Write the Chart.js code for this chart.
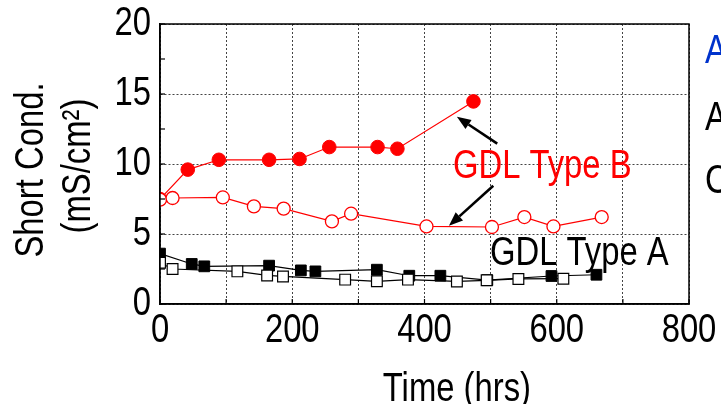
<!DOCTYPE html>
<html>
<head>
<meta charset="utf-8">
<script src="https://cdn.jsdelivr.net/npm/chart.js@4.4.1/dist/chart.umd.min.js"></script>
<style>
  html, body { margin: 0; padding: 0; background: #fff; }
  #wrap { width: 721px; height: 404px; }
</style>
</head>
<body>
<div id="wrap"><canvas id="c" width="721" height="404"></canvas></div>
<script>
// GDL Type B, open circles
const typeBOpenHours = [0, 19, 95, 142, 187, 260, 289, 403, 502, 551, 595, 668];
const typeBOpenCond  = [7.45, 7.57, 7.61, 6.97, 6.81, 5.9, 6.45, 5.54, 5.5, 6.21, 5.54, 6.21];

// GDL Type B, filled circles
const typeBFilledHours = [0, 42, 89, 165, 211, 256, 329, 359, 474];
const typeBFilledCond  = [7.5, 9.6, 10.3, 10.3, 10.36, 11.21, 11.21, 11.09, 14.47];

// GDL Type A, open squares
const typeAOpenHours = [0, 19, 117, 162, 186, 280, 328, 375, 449, 494, 542, 610];
const typeAOpenCond  = [2.95, 2.5, 2.33, 2.04, 1.97, 1.74, 1.62, 1.74, 1.61, 1.69, 1.79, 1.81];

// GDL Type A, filled squares
const typeAFilledHours = [0, 48, 67, 165, 213, 235, 328, 377, 424, 495, 592, 660];
const typeAFilledCond  = [3.6, 2.86, 2.69, 2.74, 2.4, 2.33, 2.45, 2.02, 2.02, 1.7, 2.0, 2.09];

// Axis ticks and titles
const xTickLabels = [0, 200, 400, 600, 800];
const yTickLabels = [0, 5, 10, 15, 20];
const xTitle = 'Time (hrs)';
const yTitle = ['Short Cond.', '(mS/cm²)'];

const FONT = '"Liberation Sans", Arial, sans-serif';
const NARROW = 0.82;   // horizontal squeeze giving a narrow sans face
Chart.defaults.font.family = FONT;

function points(xs, ys) { return xs.map((x, i) => ({ x: x, y: ys[i] })); }

// Narrow text: drawn with a horizontal squeeze, optionally rotated
function narrowText(ctx, str, x, y, opts) {
  const o = Object.assign({ size: 40, color: '#000', align: 'left', rotate: false }, opts || {});
  ctx.save();
  ctx.translate(x, y);
  if (o.rotate) ctx.rotate(-Math.PI / 2);
  ctx.scale(NARROW, 1);
  ctx.font = o.size + 'px ' + FONT;
  ctx.fillStyle = o.color;
  ctx.textAlign = o.align;
  ctx.textBaseline = 'alphabetic';
  ctx.fillText(str, 0, 0);
  ctx.restore();
}

function drawArrow(ctx, x1, y1, x2, y2) {
  const ang = Math.atan2(y2 - y1, x2 - x1);
  const head = 14, half = 5.5;
  const bx = x2 - head * Math.cos(ang), by = y2 - head * Math.sin(ang);
  ctx.save();
  ctx.strokeStyle = '#000'; ctx.fillStyle = '#000'; ctx.lineWidth = 2.6;
  ctx.beginPath(); ctx.moveTo(x1, y1); ctx.lineTo(bx, by); ctx.stroke();
  ctx.beginPath();
  ctx.moveTo(x2, y2);
  ctx.lineTo(bx + half * Math.sin(ang), by - half * Math.cos(ang));
  ctx.lineTo(bx - half * Math.sin(ang), by + half * Math.cos(ang));
  ctx.closePath(); ctx.fill();
  ctx.restore();
}

// Frame, inward tick marks, tick labels, titles and callouts
const decorations = {
  id: 'decorations',
  afterDatasetsDraw(chart) {
    const { ctx, chartArea: a, scales: { x, y } } = chart;
    ctx.save();
    ctx.strokeStyle = '#000'; ctx.lineWidth = 1.2;
    x.ticks.forEach(t => {
      const px = x.getPixelForValue(t.value);
      ctx.beginPath(); ctx.moveTo(px, a.bottom); ctx.lineTo(px, a.bottom - 5); ctx.stroke();
    });
    y.ticks.forEach(t => {
      const py = y.getPixelForValue(t.value);
      ctx.beginPath(); ctx.moveTo(a.left, py); ctx.lineTo(a.left + 5, py); ctx.stroke();
    });
    ctx.lineWidth = 1.5;
    ctx.strokeRect(a.left, a.top, a.right - a.left, a.bottom - a.top);
    ctx.restore();

    // tick labels
    x.ticks.forEach(t => {
      if (xTickLabels.includes(t.value)) {
        narrowText(ctx, String(t.value), x.getPixelForValue(t.value), a.bottom + 38, { align: 'center' });
      }
    });
    y.ticks.forEach(t => {
      if (yTickLabels.includes(t.value)) {
        narrowText(ctx, String(t.value), a.left - 9, y.getPixelForValue(t.value) + 11, { align: 'right' });
      }
    });

    // axis titles
    narrowText(ctx, xTitle, x.getPixelForValue(449), chart.height - 3, { align: 'center' });
    const yMid = (a.top + a.bottom) / 2;
    narrowText(ctx, yTitle[0], 43, yMid + 6, { align: 'center', rotate: true });
    narrowText(ctx, yTitle[1], 90, yMid + 2, { align: 'center', rotate: true });

    // callouts
    drawArrow(ctx, x.getPixelForValue(510), y.getPixelForValue(11.45), x.getPixelForValue(449), y.getPixelForValue(13.38));
    drawArrow(ctx, x.getPixelForValue(504), y.getPixelForValue(8.45), x.getPixelForValue(437), y.getPixelForValue(5.59));
    narrowText(ctx, 'GDL Type B', x.getPixelForValue(443), y.getPixelForValue(9.02), { color: '#ff0000' });
    narrowText(ctx, 'GDL Type A', x.getPixelForValue(499), y.getPixelForValue(2.8));

    // side labels beyond the plot
    const sx = a.right + 16;
    narrowText(ctx, 'A', sx, y.getPixelForValue(17.24), { color: '#0033cc' });
    narrowText(ctx, 'A', sx, y.getPixelForValue(12.45));
    narrowText(ctx, 'C', sx, y.getPixelForValue(7.95));
  }
};

new Chart(document.getElementById('c'), {
  type: 'line',
  data: {
    datasets: [
      {
        label: 'GDL Type B open',
        data: points(typeBOpenHours, typeBOpenCond),
        borderColor: '#ff0000', backgroundColor: '#ffffff',
        borderWidth: 1.2, pointStyle: 'circle', pointRadius: 6.5, pointBorderWidth: 1.3,
        order: 0
      },
      {
        label: 'GDL Type B filled',
        data: points(typeBFilledHours, typeBFilledCond),
        borderColor: '#ff0000', backgroundColor: '#ff0000',
        borderWidth: 1.2, pointStyle: 'circle', pointRadius: 6.8, pointBorderWidth: 1,
        order: 1
      },
      {
        label: 'GDL Type A open',
        data: points(typeAOpenHours, typeAOpenCond),
        borderColor: '#000000', backgroundColor: '#ffffff',
        borderWidth: 1.2, pointStyle: 'rect', pointRadius: 7.6, pointBorderWidth: 1.2,
        order: 0
      },
      {
        label: 'GDL Type A filled',
        data: points(typeAFilledHours, typeAFilledCond),
        borderColor: '#000000', backgroundColor: '#000000',
        borderWidth: 1.2, pointStyle: 'rect', pointRadius: 7.6, pointBorderWidth: 1,
        order: 1
      }
    ]
  },
  options: {
    responsive: false,
    animation: false,
    devicePixelRatio: 1,
    layout: { padding: { top: 24, right: 32, left: 0, bottom: 0 } },
    plugins: { legend: { display: false }, tooltip: { enabled: false } },
    elements: { line: { tension: 0 } },
    scales: {
      x: {
        type: 'linear', min: 0, max: 800,
        afterFit(s) { s.height = 100; },
        ticks: { stepSize: 100, autoSkip: false, display: false },
        grid: { color: '#444', lineWidth: 1, drawTicks: false },
        border: { display: true, color: '#000', width: 1.5, dash: [2, 2] }
      },
      y: {
        type: 'linear', min: 0, max: 20,
        afterFit(s) { s.width = 160; },
        ticks: { stepSize: 2.5, autoSkip: false, display: false },
        grid: {
          lineWidth: 1, drawTicks: false,
          color: c => (c.tick && yTickLabels.includes(c.tick.value)) ? '#444' : 'rgba(0,0,0,0)'
        },
        border: { display: true, color: '#000', width: 1.5, dash: [2, 2] }
      }
    }
  },
  plugins: [decorations]
});
</script>
</body>
</html>
